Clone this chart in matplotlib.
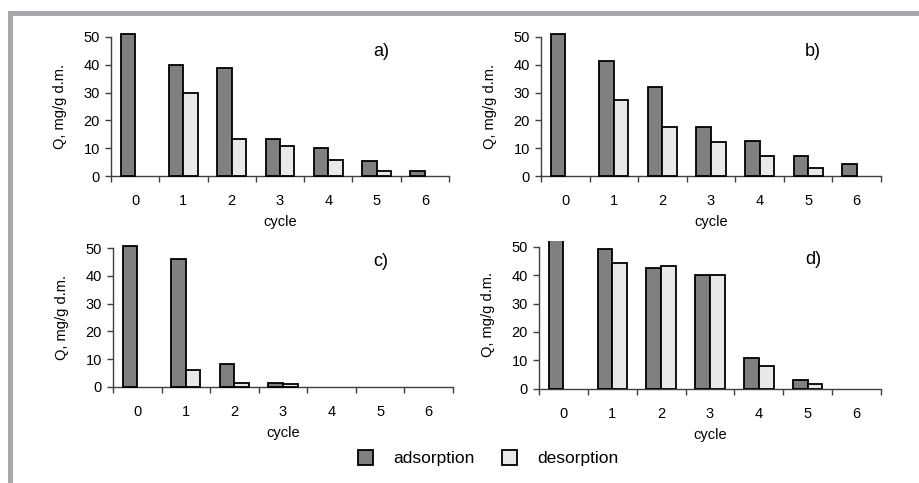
import numpy as np
import matplotlib
matplotlib.use("Agg")
import matplotlib.pyplot as plt
from matplotlib.patches import Rectangle

plt.rcParams["font.family"] = ["Liberation Sans", "DejaVu Sans"]

cycles = [0, 1, 2, 3, 4, 5, 6]
panel_tags = ["a)", "b)", "c)", "d)"]

ads_a = [51.0, 40.0, 38.9, 13.4, 10.3, 5.4, 1.8]
des_a = [0.0, 29.7, 13.4, 11.0, 6.0, 1.8, 0.0]

ads_b = [51.0, 41.3, 32.1, 17.6, 12.8, 7.4, 4.3]
des_b = [0.0, 27.5, 17.6, 12.2, 7.4, 3.0, 0.0]

ads_c = [51.0, 46.0, 8.1, 1.3, 0.0, 0.0, 0.0]
des_c = [0.0, 6.1, 1.3, 0.8, 0.0, 0.0, 0.0]

ads_d = [56.0, 49.1, 42.6, 40.0, 10.9, 3.2, 0.0]
des_d = [0.0, 44.4, 43.1, 40.0, 8.0, 1.5, 0.0]

ADS_COL = "#808080"
DES_COL = "#e8e8e8"
AX_COL = "#404040"
W, H = 920, 483

fig = plt.figure(figsize=(W / 100, H / 100), dpi=100)

# grey frame round the figure (left bar + top band)
fig.patches.append(Rectangle((8 / W, 0), 5 / W, 1 - 11 / H, transform=fig.transFigure,
                             color="#a7a9ac", lw=0))
fig.patches.append(Rectangle((8 / W, 1 - 16 / H), 1 - 8 / W, 5 / H, transform=fig.transFigure,
                             color="#a7a9ac", lw=0))

# (left, right, y0 px, y50 px, ytop px)
boxes = [
    (111, 449, 176.3, 36.7, 36.7),
    (541, 881, 176.3, 36.7, 36.7),
    (113, 453, 386.7, 248.3, 248.3),
    (539, 881, 388.7, 246.7, 241.0),
]
data = [(ads_a, des_a), (ads_b, des_b), (ads_c, des_c), (ads_d, des_d)]
tag_pos = [(373, 52), (805, 52), (373, 262), (805, 260)]

x = np.array(cycles)
bw = 0.3


def nz(v):
    # zero values are not drawn as bars in the original
    v = np.array(v, dtype=float)
    return v > 0


for i, ((l, r, y0, y50, ytop), (ads, des)) in enumerate(zip(boxes, data)):
    ax = fig.add_axes([l / W, 1 - y0 / H, (r - l) / W, (y0 - ytop) / H])
    top = 50 * (y0 - ytop) / (y0 - y50)
    clip = i == 3
    ma, md = nz(ads), nz(des)
    ax.bar(x[ma] - bw / 2, np.array(ads)[ma], bw, color=ADS_COL, edgecolor="black",
           lw=1.3, clip_on=clip, zorder=3)
    ax.bar(x[md] + bw / 2, np.array(des)[md], bw, color=DES_COL, edgecolor="black",
           lw=1.3, clip_on=clip, zorder=3)
    ax.set_xlim(-0.5, 6.5)
    ax.set_ylim(0, top)
    for s in ["top", "right"]:
        ax.spines[s].set_visible(False)
    for s in ["left", "bottom"]:
        ax.spines[s].set_color(AX_COL)
        ax.spines[s].set_linewidth(1.0)
    ax.spines["left"].set_bounds(0, 50)
    ax.set_yticks([0, 10, 20, 30, 40, 50])
    ax.set_xticks(np.arange(-0.5, 7, 1.0))
    ax.set_xticklabels([])
    ax.set_xticks(x, minor=True)
    ax.set_xticklabels([str(c) for c in cycles], minor=True)
    ax.tick_params(axis="x", which="major", length=4, width=1, color=AX_COL, direction="out")
    ax.tick_params(axis="x", which="minor", length=0, pad=13, labelsize=10.5)
    ax.tick_params(axis="y", length=4, width=1, color=AX_COL, pad=4, labelsize=10.5)
    ax.set_xlabel("cycle", fontsize=10.5, labelpad=5)
    ax.set_ylabel("Q, mg/g d.m.", fontsize=10.5, labelpad=12)
    ax.patch.set_visible(False)
    tx, ty = tag_pos[i]
    fig.text(tx / W, 1 - ty / H, panel_tags[i], fontsize=13, va="center", ha="left")

# legend
for sx, col, lab in [(358, ADS_COL, "adsorption"), (502, DES_COL, "desorption")]:
    fig.patches.append(Rectangle((sx / W, 1 - 465 / H), 15 / W, 15 / H,
                                 transform=fig.transFigure, facecolor=col,
                                 edgecolor="black", lw=1.3))
    fig.text((sx + 35) / W, 1 - 459 / H, lab, fontsize=12.5, va="center", ha="left")

fig.savefig("out.png", dpi=100)
